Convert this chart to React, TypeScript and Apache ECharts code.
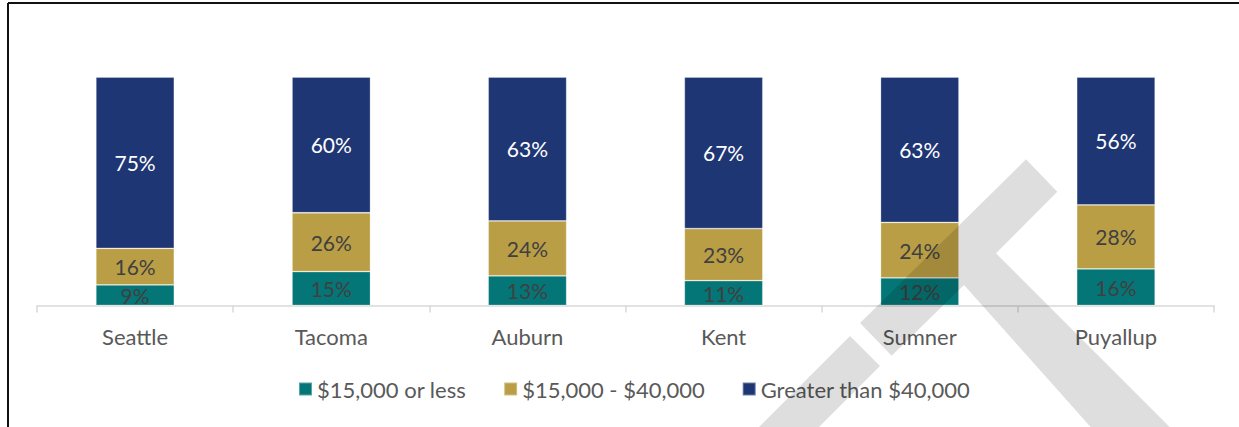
import React, { useEffect, useRef } from "react";
import * as echarts from "echarts";

const categories = ["Seattle", "Tacoma", "Auburn", "Kent", "Sumner", "Puyallup"];
const seriesNames = ["$15,000 or less", "$15,000 - $40,000", "Greater than $40,000"];
const lowIncome = [9, 15, 13, 11, 12, 16];
const midIncome = [16, 26, 24, 23, 24, 28];
const highIncome = [75, 60, 63, 67, 63, 56];
const colors = ["#047677", "#BA9E45", "#1F3674"];
const labelColors = ["#404040", "#404040", "#ffffff"];

const FONT = "Lato, 'Open Sans', sans-serif";

export default function App() {
  const ref = useRef<HTMLDivElement>(null);

  useEffect(() => {
    document.body.style.margin = "0";
    if (!ref.current) return;
    const chart = echarts.init(ref.current, undefined, { renderer: "svg" });
    const raw = [lowIncome, midIncome, highIncome];
    const totals = categories.map((_, i) => lowIncome[i] + midIncome[i] + highIncome[i]);

    const series = raw.map((arr, s) => ({
      name: seriesNames[s],
      type: "bar",
      stack: "total",
      barWidth: "40%",
      data: arr.map((v, i) => (v / totals[i]) * 100),
      itemStyle: { color: colors[s], borderColor: "rgba(255,255,255,0.35)", borderWidth: 0.8 },
      label: {
        show: true,
        position: "inside",
        fontFamily: FONT,
        fontSize: 21,
        color: labelColors[s],
        formatter: (p: any) => `${arr[p.dataIndex]}%`,
      },
    }));

    const shade = "rgba(0,0,0,0.13)";
    chart.setOption({
      animation: false,
      textStyle: { fontFamily: FONT },
      grid: { left: 37, right: 25, top: 77, bottom: 121.5, containLabel: false },
      legend: {
        data: seriesNames,
        top: 373,
        left: 293,
        icon: "rect",
        itemWidth: 13,
        itemHeight: 13,
        itemGap: 37,
        textStyle: { fontFamily: FONT, fontSize: 22, color: "#595959", padding: [0, 0, 0, 0] },
      },
      xAxis: {
        type: "category",
        data: categories,
        axisLine: { lineStyle: { color: "#d9d9d9", width: 1.5 } },
        axisTick: { show: true, length: 7, lineStyle: { color: "#d9d9d9", width: 1.5 } },
        axisLabel: { fontFamily: FONT, fontSize: 22, color: "#595959", margin: 20 },
      },
      yAxis: { type: "value", min: 0, max: 100, show: false },
      series,
      graphic: [
        { type: "line", shape: { x1: 8, y1: 3, x2: 1239, y2: 3 }, style: { stroke: "#111", lineWidth: 2 }, z: 100 },
        { type: "line", shape: { x1: 8, y1: 3, x2: 8, y2: 427 }, style: { stroke: "#111", lineWidth: 2 }, z: 100 },
        {
          type: "polygon",
          z: 100,
          shape: {
            points: [
              [1026, 159.3],
              [1057.3, 191.7],
              [996, 253.3],
              [1170, 427.3],
              [1170, 460],
              [1120, 460],
              [964, 285],
              [891.7, 355.7],
              [860, 323],
            ],
          },
          style: { fill: shade },
        },
        {
          type: "polygon",
          z: 100,
          shape: { points: [[850, 336], [880, 366], [780, 466], [750, 436]] },
          style: { fill: shade },
        },
      ],
    });
    return () => chart.dispose();
  }, []);

  return <div ref={ref} style={{ width: 1239, height: 427 }} />;
}
